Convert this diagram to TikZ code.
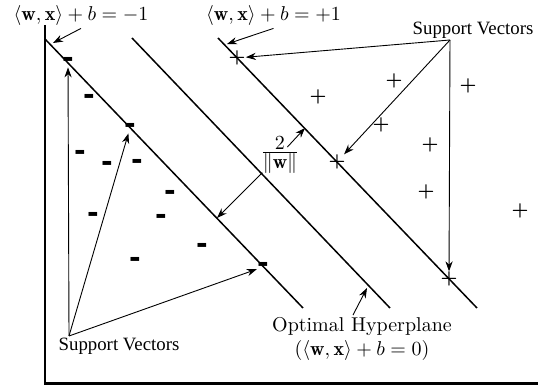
\documentclass[tikz,border=0pt]{standalone}
\usepackage{fontspec}
\usepackage{amsmath}
\usetikzlibrary{arrows.meta}
\newfontfamily\svfont{Liberation Serif}
\newfontfamily\mfont{DejaVu Sans}
\begin{document}
\begin{tikzpicture}[x=0.5pt,y=-0.5pt,
  axis/.style={line width=1.2pt},
  plane/.style={line width=0.75pt},
  arr/.style={line width=0.45pt,-{Stealth[length=5pt,width=3.6pt]}},
  plus/.style={inner sep=0pt,font=\fontsize{9.2}{10}\selectfont\bfseries},
  minus/.style={inner sep=0pt,font=\mfont\bfseries\fontsize{14}{14}\selectfont},
  svlabel/.style={font=\svfont\fontsize{9.4}{10}\selectfont,inner sep=1pt},
  mlabel/.style={inner sep=1pt}]
\useasboundingbox (0,0) rectangle (538,385);
% axes
\coordinate (ax0) at (45,383.5);
\coordinate (axtop) at (45,25);
\coordinate (axright) at (538,383.5);
\draw[axis] (axtop) -- (ax0) -- (axright);
% hyperplanes
\coordinate (L1a) at (45,39);  \coordinate (L1b) at (303,308);
\coordinate (L2a) at (132,38); \coordinate (L2b) at (390,308);
\coordinate (L3a) at (218,38); \coordinate (L3b) at (477,308);
\draw[plane] (L1a) -- (L1b);
\draw[plane] (L2a) -- (L2b);
\draw[plane] (L3a) -- (L3b);
% plus points
\node[plus] (p1) at (237,58) {+};
\node[plus] (p2) at (318,97) {+};
\node[plus] (p3) at (394,81) {+};
\node[plus] (p4) at (468,86) {+};
\node[plus] (p5) at (381,125) {+};
\node[plus] (p6) at (430,145) {+};
\node[plus] (p7) at (337,162) {+};
\node[plus] (p8) at (426,192) {+};
\node[plus] (p9) at (520,211) {+};
\node[plus] (p10) at (449,279) {+};
% minus points
\node[minus] (m1) at (68,62) {-};
\node[minus] (m2) at (89,99) {-};
\node[minus] (m3) at (130,128) {-};
\node[minus] (m4) at (80,155) {-};
\node[minus] (m5) at (107,166) {-};
\node[minus] (m6) at (137,164) {-};
\node[minus] (m7) at (170,195) {-};
\node[minus] (m8) at (93,217) {-};
\node[minus] (m9) at (161,219) {-};
\node[minus] (m10) at (202,248) {-};
\node[minus] (m11) at (135,262) {-};
\node[minus] (m12) at (263,267) {-};
% margin labels
\node[mlabel] (lm1) at (81,16) {$\langle\mathbf{w},\mathbf{x}\rangle+b=-1$};
\node[mlabel] (lp1) at (273.5,16) {$\langle\mathbf{w},\mathbf{x}\rangle+b=+1$};
\coordinate (a1) at (53,43);
\coordinate (a3) at (227,44);
\draw[arr] (lm1.south) -- (a1);
\draw[arr] (lp1.south) -- (a3);
% margin width
\node[inner sep=0pt] (margin) at (280,155) {$\frac{\textstyle 2}{\textstyle\|\mathbf{w}\|}$};
\coordinate (mA) at (217,218);
\coordinate (mB) at (305,128);
\draw[arr,shorten <=12.5pt] (margin.center) -- (mA);
\draw[arr,shorten <=5.4pt] (margin.center) -- (mB);
% optimal hyperplane
\node[mlabel,align=center] (oh) at (362,339) {Optimal Hyperplane\\$(\langle\mathbf{w},\mathbf{x}\rangle+b=0)$};
\coordinate (ohp) at (367,288);
\draw[arr] ([xshift=-4.5pt]oh.north) -- (ohp);
% support vectors top
\node[svlabel] (svt) at (473,30) {Support Vectors};
\coordinate (svto) at (450,40);
\draw[arr] (svto) -- (p1);
\draw[arr] (svto) -- (p7);
\draw[arr] (svto) -- (p10);
% support vectors bottom
\node[svlabel] (svb) at (119,346) {Support Vectors};
\coordinate (svbo) at (69,336);
\draw[arr] (svbo) -- (m1);
\draw[arr] (svbo) -- (m3);
\draw[arr] (svbo) -- (m12);
\end{tikzpicture}
\end{document}
